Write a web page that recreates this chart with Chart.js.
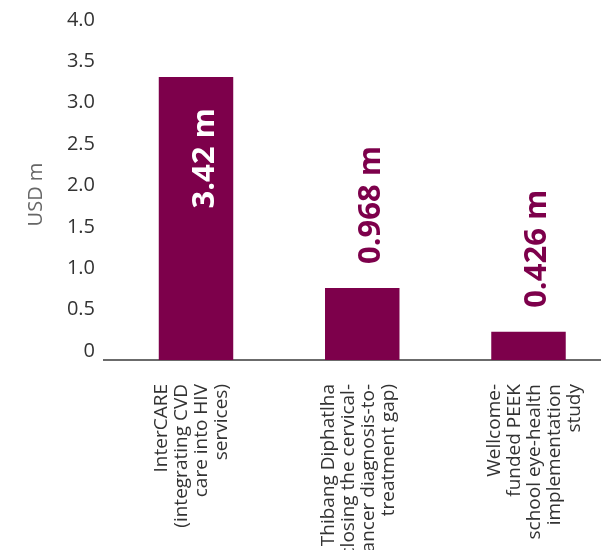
<!DOCTYPE html>
<html>
<head>
<meta charset="utf-8">
<script src="https://cdn.jsdelivr.net/npm/chart.js@4"></script>
<style>
  body { margin: 0; background: #fff; }
  #wrap { width: 601px; height: 550px; }
</style>
</head>
<body>
<div id="wrap"><canvas id="fundChart"></canvas></div>
<script>
// project names (one array per multi-line tick label)
const projects = [
  ["InterCARE", "(integrating CVD", "care into HIV", "services)"],
  ["Thibang Diphatlha", "(closing the cervical-", "cancer diagnosis-to-", "treatment gap)"],
  ["Wellcome-", "funded PEEK", "school eye-health", "implementation", "study"]
];
// bar heights as drawn (USD m)
const funding = [3.42, 0.87, 0.34];
// value labels printed on the bars
const fundingLabels = ["3.42 m", "0.968 m", "0.426 m"];
const yTicks = [0, 0.5, 1.0, 1.5, 2.0, 2.5, 3.0, 3.5, 4.0];

const barColor = "#7d004b";

// draws the rotated value labels, inside the bar when it fits
const valueLabelPlugin = {
  id: "valueLabels",
  afterDatasetsDraw(chart) {
    const ctx = chart.ctx;
    const meta = chart.getDatasetMeta(0);
    ctx.save();
    ctx.font = "bold 31px 'Open Sans'";
    ctx.textBaseline = "alphabetic";
    meta.data.forEach(function (bar, i) {
      const text = fundingLabels[i];
      const w = ctx.measureText(text).width;
      const inside = bar.base - bar.y > w + 60;
      ctx.save();
      ctx.translate(bar.x + 18, inside ? bar.y + 31 : bar.y - 24);
      ctx.rotate(-Math.PI / 2);
      ctx.textAlign = inside ? "right" : "left";
      ctx.fillStyle = inside ? "#ffffff" : barColor;
      ctx.fillText(text, 0, 0);
      ctx.restore();
    });
    ctx.restore();
  }
};

new Chart(document.getElementById("fundChart"), {
  type: "bar",
  data: {
    datasets: [{
      data: funding.map(function (v, i) { return { x: i, y: v }; }),
      backgroundColor: barColor,
      borderWidth: 0,
      categoryPercentage: 1,
      barPercentage: 0.448
    }]
  },
  options: {
    responsive: true,
    maintainAspectRatio: false,
    animation: false,
    layout: { padding: { top: 29, right: 0, bottom: 0, left: 0 } },
    plugins: { legend: { display: false }, tooltip: { enabled: false } },
    scales: {
      x: {
        type: "linear",
        offset: false,
        min: -0.5534,
        max: 2.4361,
        grid: { display: false, drawTicks: false },
        border: { display: true, color: "#6b6b6b", width: 2 },
        ticks: {
          stepSize: 1,
          includeBounds: false,
          autoSkip: false,
          minRotation: 90,
          maxRotation: 90,
          padding: 24,
          labelOffset: -34,
          color: "#333",
          font: { family: "'Open Sans'", size: 19, lineHeight: "20px" },
          callback: function (value) {
            return projects[value] || "";
          }
        },
        afterFit: function (scale) {
          scale.height = 190;
          scale.paddingLeft = 0;
          scale.paddingRight = 0;
        }
      },
      y: {
        min: yTicks[0],
        max: yTicks[yTicks.length - 1],
        grid: { display: false, drawTicks: false },
        border: { display: false },
        ticks: {
          stepSize: 0.5,
          padding: 9,
          labelOffset: -9,
          color: "#333",
          font: { family: "'Open Sans'", size: 20 },
          callback: function (value) {
            return value === 0 ? "0" : value.toFixed(1);
          }
        },
        title: {
          display: true,
          text: "USD m",
          color: "#666",
          padding: { top: 24, bottom: 0 },
          font: { family: "'Open Sans'", size: 20, weight: "normal" }
        },
        afterFit: function (scale) {
          scale.width = 104;
          scale.paddingTop = 0;
          scale.paddingBottom = 0;
        }
      }
    }
  },
  plugins: [valueLabelPlugin]
});
</script>
</body>
</html>
